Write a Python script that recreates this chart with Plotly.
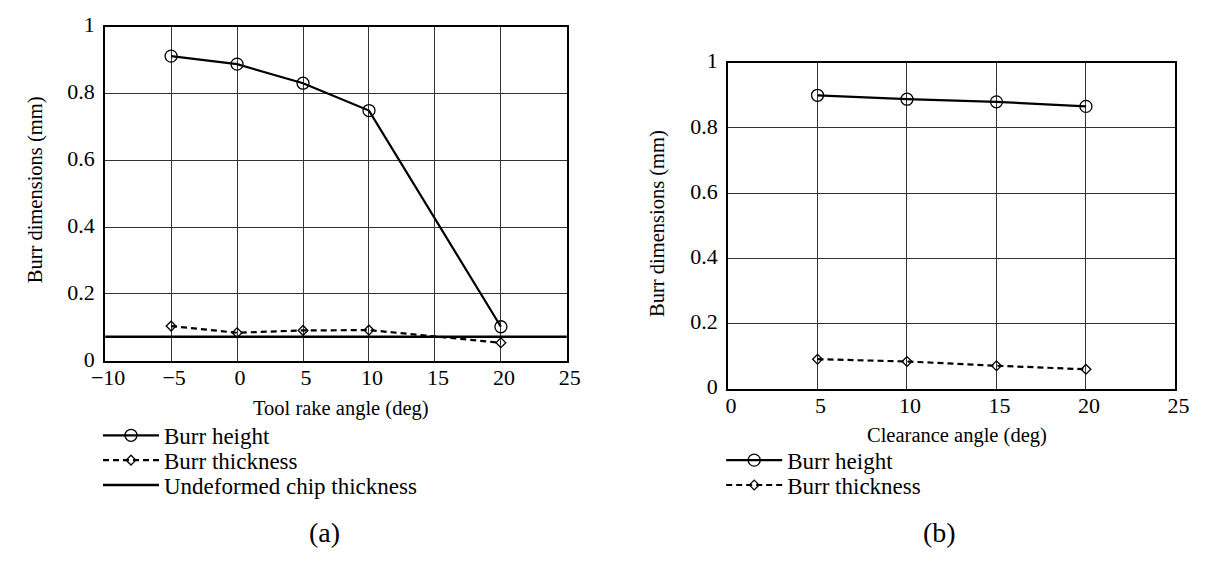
import plotly.graph_objects as go

# ---- data: (a) tool rake angle ----
rake_angle = [-5, 0, 5, 10, 20]
rake_burr_height = [0.912, 0.888, 0.831, 0.749, 0.102]
rake_burr_thickness = [0.104, 0.084, 0.091, 0.092, 0.054]
chip_x = [-10, 25]
chip_thickness = [0.072, 0.072]

# ---- data: (b) clearance angle ----
clearance_angle = [5, 10, 15, 20]
clr_burr_height = [0.900, 0.888, 0.880, 0.866]
clr_burr_thickness = [0.090, 0.083, 0.070, 0.059]

xticks_a = [-10, -5, 0, 5, 10, 15, 20, 25]
xticklabels_a = ["\u221210", "\u22125", "0", "5", "10", "15", "20", "25"]
xticks_b = [0, 5, 10, 15, 20, 25]
yticks = [0, 0.2, 0.4, 0.6, 0.8, 1.0]
yticklabels = ["0", "0.2", "0.4", "0.6", "0.8", "1"]

FONT = "Liberation Serif"
W, H = 1207, 561


def px_x(p):
    return p / W


def px_y(p):
    return (H - p) / H


height_style = dict(line=dict(color="black", width=2.2),
                    marker=dict(symbol="circle-open", size=12, color="black", line=dict(width=1.3)))
thick_style = dict(line=dict(color="black", width=2.2, dash="6px,4px"),
                   marker=dict(symbol="diamond-open", size=7.5, color="black", line=dict(width=1.3)))

fig = go.Figure()

fig.add_trace(go.Scatter(x=rake_angle, y=rake_burr_height, mode="lines+markers",
                         name="Burr height", xaxis="x", yaxis="y", legend="legend", **height_style))
fig.add_trace(go.Scatter(x=rake_angle, y=rake_burr_thickness, mode="lines+markers",
                         name="Burr thickness", xaxis="x", yaxis="y", legend="legend2", **thick_style))
fig.add_trace(go.Scatter(x=chip_x, y=chip_thickness, mode="lines",
                         name="Undeformed chip thickness", xaxis="x", yaxis="y", legend="legend3",
                         line=dict(color="black", width=2.7)))

fig.add_trace(go.Scatter(x=clearance_angle, y=clr_burr_height, mode="lines+markers",
                         name="Burr height", xaxis="x2", yaxis="y2", legend="legend4", **height_style))
fig.add_trace(go.Scatter(x=clearance_angle, y=clr_burr_thickness, mode="lines+markers",
                         name="Burr thickness", xaxis="x2", yaxis="y2", legend="legend5", **thick_style))

axis_common = dict(showline=True, linecolor="black", linewidth=2, mirror=True,
                   showgrid=True, gridcolor="#333333", gridwidth=1, zeroline=False,
                   ticks="", tickfont=dict(family=FONT, size=22, color="black"))


def leg(xp, yp):
    return dict(x=px_x(xp), y=px_y(yp), xanchor="left", yanchor="middle",
                bgcolor="rgba(0,0,0,0)", itemwidth=56, tracegroupgap=0,
                font=dict(family=FONT, size=23, color="black"))


fig.update_layout(
    width=W, height=H, autosize=False,
    margin=dict(l=0, r=0, t=0, b=0),
    paper_bgcolor="white", plot_bgcolor="white",
    font=dict(family=FONT, color="black"),
    xaxis=dict(domain=[px_x(93.3), px_x(566)], range=[-10, 25], anchor="y",
               tickvals=xticks_a, ticktext=xticklabels_a, ticklabelstandoff=-4,
               ticklabelshift=3, **axis_common),
    yaxis=dict(domain=[px_y(363), px_y(13.3)], range=[0, 1], anchor="x",
               tickvals=yticks, ticktext=yticklabels, ticklabelstandoff=4,
               ticklabelshift=-2, **axis_common),
    xaxis2=dict(domain=[px_x(731), px_x(1189)], range=[0, 25], anchor="y2",
                tickvals=xticks_b, ticklabelstandoff=-4, ticklabelshift=3, **axis_common),
    yaxis2=dict(domain=[px_y(392), px_y(51)], range=[0, 1], anchor="x2",
                tickvals=yticks, ticktext=yticklabels, ticklabelstandoff=4,
                ticklabelshift=-2, **axis_common),
    legend=leg(86, 441),
    legend2=leg(86, 467),
    legend3=leg(86, 493),
    legend4=leg(724, 467),
    legend5=leg(724, 493),
    showlegend=True,
)

annos = [
    dict(text="Tool rake angle (deg)", x=px_x(335), y=px_y(413), size=20.5, angle=0),
    dict(text="Clearance angle (deg)", x=px_x(965), y=px_y(441), size=20.5, angle=0),
    dict(text="Burr dimensions (mm)", x=px_x(22), y=px_y(184), size=20.5, angle=-90),
    dict(text="Burr dimensions (mm)", x=px_x(659), y=px_y(219), size=20.5, angle=-90),
    dict(text="(a)", x=px_x(318), y=px_y(543), size=28, angle=0),
    dict(text="(b)", x=px_x(947), y=px_y(543), size=28, angle=0),
]
for a in annos:
    fig.add_annotation(text=a["text"], x=a["x"], y=a["y"], xref="paper", yref="paper",
                       xanchor="center", yanchor="middle", showarrow=False, textangle=a["angle"],
                       font=dict(family=FONT, size=a["size"], color="black"))

fig.write_html("out.html", config={"displayModeBar": False},
               post_script="document.body.style.margin='0px';")
